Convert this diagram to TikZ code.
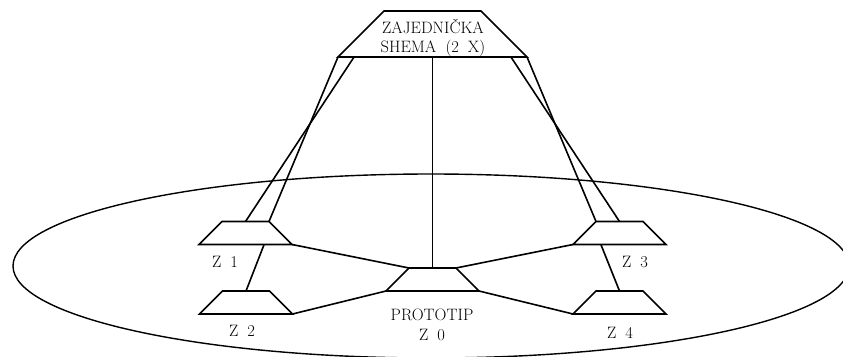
\documentclass[tikz,border=0pt]{standalone}
\usepackage{fontspec}
\usetikzlibrary{shapes.geometric,calc}
\newcommand\wsp{\hspace{0.55em}}
\begin{document}
\begin{tikzpicture}[x=1pt,y=-1pt,
  trap/.style={trapezium, trapezium angle=45, draw, line width=1.6pt,
    outer sep=0pt, inner xsep=23.5pt, inner ysep=11.5pt},
  conn/.style={line width=1.6pt},
  lab/.style={font=\fontsize{16.5}{18.5}\selectfont, inner sep=0pt, align=center}]
\useasboundingbox (0,0) rectangle (843,356);
\fill[white] (0,0) rectangle (843,356);
\begin{scope}
\clip (0,0) rectangle (843,356);
\node[ellipse, draw, line width=1.4pt, minimum width=836pt, minimum height=184pt,
  inner sep=0pt, outer sep=0pt] (plane) at (431,266) {};
\end{scope}
% trapezoids
\node[trap, inner xsep=48.5pt, inner ysep=23pt] (top) at (432.5,34) {};
\node[lab] (toptext) at (433,38) {ZAJEDNIČKA\\SHEMA\wsp(2\wsp X)};
\node[trap] (z1) at (245.5,233) {};
\node[trap] (z2) at (246,302.5) {};
\node[trap] (z0) at (432.5,279.5) {};
\node[trap] (z3) at (619.5,233) {};
\node[trap] (z4) at (619.5,302.5) {};
% labels
\node[lab] (l1) at (225,262) {Z\wsp 1};
\node[lab] (l2) at (242,331) {Z\wsp 2};
\node[lab] (l3) at (635,262) {Z\wsp 3};
\node[lab] (l4) at (620,333) {Z\wsp 4};
\node[lab, font=\fontsize{16.5}{20}\selectfont] (l0) at (432,325) {PROTOTIP\\Z\wsp 0};
% connectors
\draw[conn] ($(top.bottom left corner)!0.085!(top.bottom right corner)$) -- (z1.north);
\draw[conn] (top.bottom left corner) -- (z1.top right corner);
\draw[conn] (top.bottom right corner) -- (z3.top left corner);
\draw[conn] ($(top.bottom left corner)!0.915!(top.bottom right corner)$) -- (z3.north);
\draw[conn] (top.south) -- (z0.north);
\draw[conn] ($(z1.bottom left corner)!0.7!(z1.bottom right corner)$) -- (z2.north);
\draw[conn] ($(z3.bottom left corner)!0.3!(z3.bottom right corner)$) -- (z4.north);
\draw[conn] (z1.bottom right corner) -- (z0.top left corner);
\draw[conn] (z2.bottom right corner) -- (z0.bottom left corner);
\draw[conn] (z0.top right corner) -- (z3.bottom left corner);
\draw[conn] (z0.bottom right corner) -- (z4.bottom left corner);
\end{tikzpicture}
\end{document}
